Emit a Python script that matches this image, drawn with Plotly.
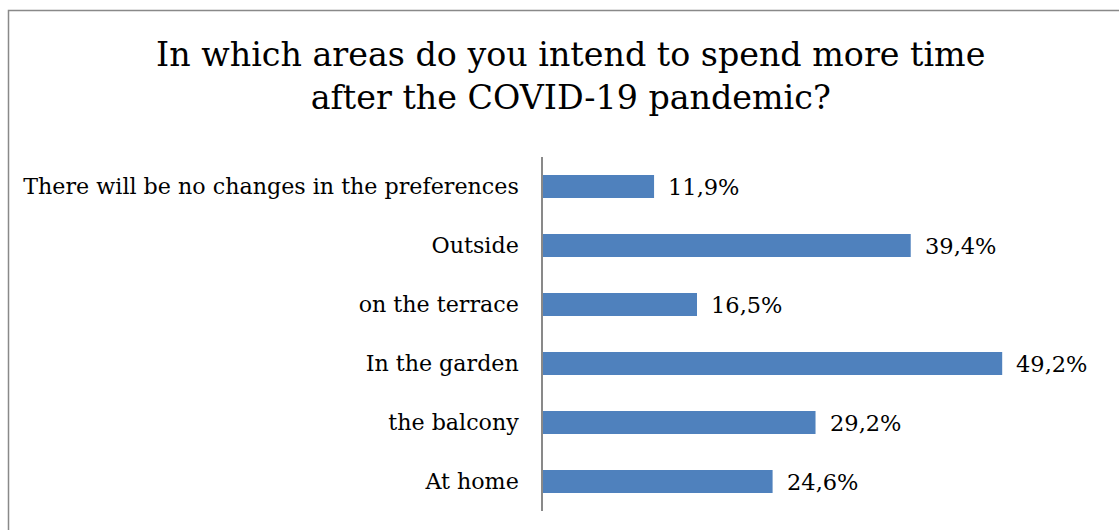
import plotly.graph_objects as go

categories = ["At home", "the balcony", "In the garden", "on the terrace", "Outside",
              "There will be no changes in the preferences"]
values = [24.6, 29.2, 49.2, 16.5, 39.4, 11.9]
labels = ["24,6%", "29,2%", "49,2%", "16,5%", "39,4%", "11,9%"]

W, H = 1119, 530
FONT = "DejaVu Serif"

fig = go.Figure()
fig.add_trace(go.Bar(
    y=categories, x=values, orientation="h",
    marker=dict(color="#4F81BD", line=dict(width=0)),
    width=0.39, hoverinfo="skip",
))

for c, v, t in zip(categories, values, labels):
    fig.add_annotation(x=v, y=c, text=t, showarrow=False, xanchor="left",
                       yanchor="middle", xshift=12,
                       font=dict(family=FONT, size=22.5, color="#000000"))

fig.add_annotation(
    x=570 / W, y=1 - 76 / H, xref="paper", yref="paper",
    text="In which areas do you intend to spend more time<br>after the COVID-19 pandemic?",
    showarrow=False, xanchor="center", yanchor="middle", align="center",
    font=dict(family=FONT, size=33.3, color="#000000"),
)

fig.add_shape(type="rect", xref="paper", yref="paper",
              x0=8.5 / W, x1=1.05, y0=-0.05, y1=1 - 10.5 / H,
              line=dict(color="#898989", width=1.5), fillcolor="rgba(0,0,0,0)")

fig.update_layout(
    width=W, height=H, template="none",
    margin=dict(l=0, r=0, t=0, b=0),
    paper_bgcolor="white", plot_bgcolor="white",
    showlegend=False,
    xaxis=dict(domain=[543 / W, 1103 / W], range=[0, 60], visible=False,
               showgrid=False, zeroline=False, fixedrange=True),
    yaxis=dict(domain=[19 / H, 373 / H], showline=True, linecolor="#898989",
               linewidth=1.5, showgrid=False, zeroline=False, ticks="",
               ticklabelstandoff=18, automargin=False,
               tickfont=dict(family=FONT, size=22.2, color="#000000"),
               categoryorder="array", categoryarray=categories),
    font=dict(family=FONT),
)

fig.write_html("out.html")
